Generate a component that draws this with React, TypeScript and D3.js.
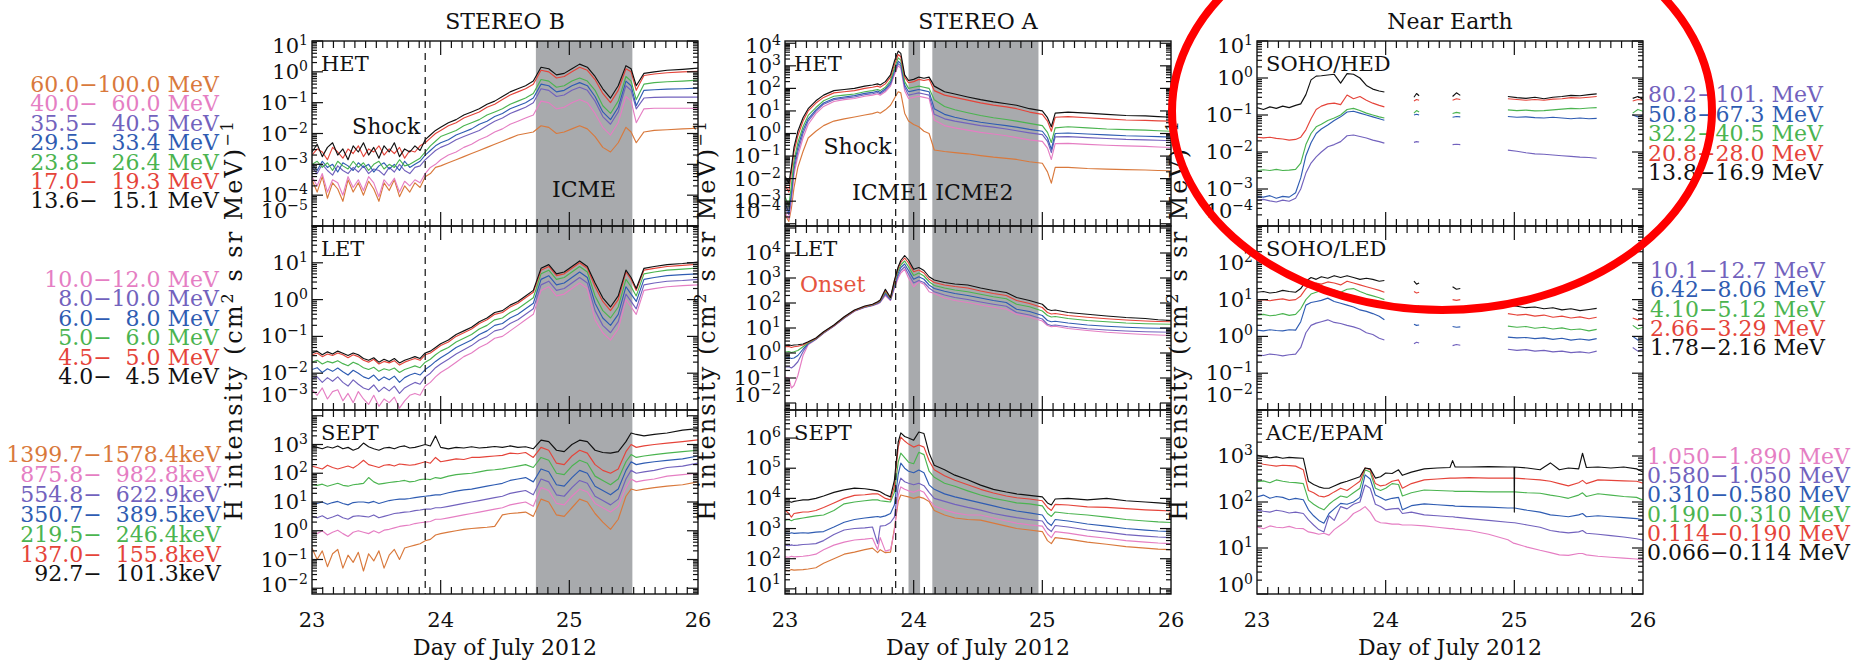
import React from "react";
import * as d3 from "d3";

const FONT = "'DejaVu Serif', 'Liberation Serif', serif";

const C = {
  orange: "#d9793c",
  pink: "#e57ec3",
  purple: "#7262bd",
  blue: "#2f5cb2",
  green: "#4bb450",
  red: "#e5443a",
  black: "#111111",
};

// ---------- sample times (day of July 2012) ----------
const stbTime = [
  23.0, 23.04, 23.08, 23.12, 23.16, 23.2, 23.24, 23.28, 23.32, 23.36,
  23.4, 23.44, 23.48, 23.52, 23.56, 23.6, 23.64, 23.68, 23.72, 23.76,
  23.8, 23.84, 23.88, 23.92, 23.96, 24.0, 24.06, 24.12, 24.18, 24.24,
  24.3, 24.36, 24.42, 24.48, 24.54, 24.6, 24.66, 24.72, 24.78, 24.84,
  24.9, 24.96, 25.02, 25.08, 25.14, 25.2, 25.26, 25.32, 25.38, 25.44,
  25.48, 25.52, 25.58, 25.66, 25.76, 25.88, 26.0,
];
const staTime = [
  23.0, 23.03, 23.05, 23.07, 23.1, 23.14, 23.18, 23.24, 23.3, 23.38,
  23.46, 23.54, 23.62, 23.68, 23.72, 23.74, 23.78, 23.82, 23.85, 23.88,
  23.9, 23.93, 23.96, 24.0, 24.04, 24.08, 24.12, 24.16, 24.24, 24.32,
  24.42, 24.52, 24.62, 24.72, 24.8, 24.9, 25.0, 25.04, 25.07, 25.1,
  25.2, 25.35, 25.5, 25.65, 25.8, 25.9, 26.0,
];
const sohoTime = [
  23.0, 23.05, 23.1, 23.15, 23.2, 23.25, 23.3, 23.34, 23.38, 23.42,
  23.46, 23.5, 23.55, 23.6, 23.65, 23.7, 23.75, 23.8, 23.85, 23.9,
  23.95, 23.99, 24.1, 24.22, 24.24, 24.26, 24.4, 24.52, 24.55, 24.58,
  24.8, 24.95, 25.02, 25.09, 25.16, 25.23, 25.3, 25.37, 25.44, 25.51,
  25.58, 25.64, 25.8, 25.92, 25.96, 26.0,
];
const epamTime = [
  23.0, 23.05, 23.1, 23.15, 23.2, 23.25, 23.3, 23.36, 23.4, 23.44,
  23.48, 23.52, 23.56, 23.6, 23.65, 23.7, 23.75, 23.8, 23.84, 23.88,
  23.92, 23.96, 24.0, 24.05, 24.1, 24.13, 24.2, 24.3, 24.4, 24.5,
  24.52, 24.54, 24.65, 24.8, 24.95, 24.998, 25.0, 25.002, 25.1, 25.2,
  25.28, 25.35, 25.42, 25.5, 25.53, 25.56, 25.65, 25.75, 25.85, 25.95,
  26.0,
];

// ---------- event markers ----------
const stbShock = 23.88;
const staShock = 23.86;
const stbIcme = [[24.74, 25.49]];
const staIcme = [[23.96, 24.05], [24.145, 24.97]];

// ---------- STEREO B HET, log10 intensity ----------
const stbHetOrange = [-3.5,-3.9,-3.4,-4.1,-3.6,-3.8,-4.2,-3.5,-3.9,-3.6,-4.0,-3.55,-3.8,-4.2,-3.6,-3.85,-3.5,-4.05,-3.7,-3.9,-3.6,-3.75,-3.4,-3.3,-3.1,-3.05,-2.95,-2.85,-2.75,-2.65,-2.55,-2.45,-2.35,-2.25,-2.15,-2.05,-2.0,-1.95,-1.75,-1.8,-2.0,-1.95,-1.85,-1.75,-1.85,-2.1,-2.45,-2.6,-2.3,-1.8,-1.95,-2.3,-1.95,-1.9,-1.88,-1.85,-1.83];
const stbHetPink = [-3.4,-3.7,-3.3,-3.9,-3.5,-3.6,-4.0,-3.4,-3.75,-3.5,-3.85,-3.4,-3.6,-4.05,-3.5,-3.7,-3.45,-3.9,-3.55,-3.7,-3.5,-3.6,-3.3,-3.1,-3.0,-2.85,-2.7,-2.6,-2.45,-2.35,-2.2,-2.1,-1.95,-1.85,-1.7,-1.6,-1.5,-1.4,-0.95,-1.0,-1.2,-1.15,-1.0,-0.9,-1.0,-1.35,-1.8,-2.05,-1.65,-0.8,-0.95,-1.65,-1.2,-1.18,-1.18,-1.18,-1.18];
const stbHetPurple = [-3.1,-3.3,-3.0,-3.2,-3.35,-3.05,-3.2,-3.3,-3.1,-3.25,-3.05,-3.3,-3.15,-3.2,-3.35,-3.1,-3.25,-3.0,-3.2,-3.3,-3.1,-3.05,-2.85,-2.7,-2.55,-2.45,-2.35,-2.2,-2.1,-2.0,-1.9,-1.75,-1.6,-1.5,-1.35,-1.25,-1.15,-1.0,-0.55,-0.6,-0.8,-0.75,-0.6,-0.5,-0.6,-0.95,-1.45,-1.7,-1.3,-0.45,-0.6,-1.2,-0.85,-0.83,-0.82,-0.82,-0.82];
const stbHetBlue = [-3.0,-3.2,-2.9,-3.1,-3.0,-3.25,-2.95,-3.05,-3.2,-2.95,-3.1,-3.0,-3.25,-3.05,-2.95,-3.15,-3.0,-3.2,-2.9,-3.1,-3.0,-2.9,-2.7,-2.55,-2.4,-2.3,-2.2,-2.05,-1.95,-1.85,-1.7,-1.6,-1.45,-1.35,-1.2,-1.1,-1.0,-0.85,-0.4,-0.45,-0.65,-0.6,-0.45,-0.35,-0.45,-0.8,-1.3,-1.55,-1.15,-0.3,-0.45,-1.1,-0.6,-0.58,-0.56,-0.55,-0.53];
const stbHetGreen = [-3.0,-2.9,-3.1,-2.95,-3.2,-2.9,-3.05,-3.15,-2.9,-3.1,-2.95,-3.2,-3.0,-2.9,-3.15,-3.0,-3.1,-2.85,-3.05,-3.0,-2.9,-2.8,-2.6,-2.4,-2.25,-2.1,-2.0,-1.9,-1.75,-1.65,-1.55,-1.4,-1.3,-1.2,-1.05,-0.95,-0.85,-0.7,-0.25,-0.3,-0.5,-0.45,-0.3,-0.2,-0.3,-0.6,-1.1,-1.35,-0.95,-0.15,-0.3,-0.9,-0.4,-0.35,-0.32,-0.3,-0.27];
const stbHetRed = [-2.7,-2.5,-2.6,-2.85,-2.45,-2.6,-2.8,-2.5,-2.65,-2.4,-2.75,-2.5,-2.6,-2.4,-2.7,-2.5,-2.65,-2.45,-2.8,-2.55,-2.6,-2.4,-2.3,-2.15,-2.0,-1.9,-1.75,-1.65,-1.5,-1.4,-1.3,-1.15,-1.05,-0.9,-0.75,-0.65,-0.55,-0.4,0.05,0.0,-0.2,-0.15,0.0,0.15,0.05,-0.25,-0.7,-1.0,-0.6,0.1,0.0,-0.6,-0.12,-0.07,-0.03,0.0,0.02];
const stbHetBlack = [-2.6,-2.35,-2.75,-2.45,-2.3,-2.7,-2.5,-2.85,-2.4,-2.6,-2.3,-2.7,-2.45,-2.8,-2.4,-2.6,-2.3,-2.75,-2.5,-2.6,-2.4,-2.55,-2.2,-2.05,-1.9,-1.8,-1.65,-1.55,-1.4,-1.3,-1.2,-1.05,-0.95,-0.8,-0.65,-0.55,-0.45,-0.3,0.15,0.1,-0.1,-0.05,0.1,0.25,0.15,-0.15,-0.55,-0.85,-0.45,0.2,0.1,-0.45,-0.05,0.0,0.05,0.08,0.12];

// ---------- STEREO B LET ----------
const stbLetPink = [-2.45,-2.6,-2.4,-2.7,-2.5,-2.45,-2.75,-2.55,-2.8,-2.5,-2.7,-2.85,-2.6,-2.9,-2.7,-2.8,-2.65,-2.95,-2.75,-2.6,-2.55,-2.6,-2.35,-2.25,-2.1,-1.98,-1.85,-1.7,-1.55,-1.45,-1.3,-1.2,-1.05,-1.0,-0.85,-0.7,-0.55,-0.4,0.25,0.35,0.1,0.15,0.3,0.45,0.3,-0.55,-0.9,-1.1,-0.8,0.0,-0.2,-0.4,0.25,0.3,0.35,0.38,0.4];
const stbLetPurple = [-2.15,-2.1,-2.25,-2.12,-2.22,-2.1,-2.25,-2.35,-2.18,-2.3,-2.4,-2.45,-2.32,-2.5,-2.38,-2.48,-2.35,-2.55,-2.4,-2.32,-2.25,-2.3,-2.1,-2.0,-1.85,-1.75,-1.62,-1.48,-1.36,-1.25,-1.1,-1.0,-0.85,-0.8,-0.65,-0.55,-0.4,-0.25,0.4,0.5,0.25,0.3,0.45,0.6,0.45,-0.3,-0.7,-0.9,-0.6,0.15,-0.05,-0.25,0.4,0.45,0.5,0.52,0.55];
const stbLetBlue = [-1.9,-1.85,-1.98,-1.88,-1.95,-1.86,-1.96,-2.05,-1.92,-2.0,-2.1,-2.15,-2.05,-2.2,-2.1,-2.18,-2.08,-2.25,-2.12,-2.05,-2.0,-2.05,-1.9,-1.8,-1.68,-1.58,-1.45,-1.3,-1.2,-1.1,-0.95,-0.85,-0.7,-0.65,-0.5,-0.4,-0.25,-0.1,0.55,0.65,0.4,0.45,0.6,0.75,0.6,-0.1,-0.5,-0.7,-0.4,0.35,0.15,-0.05,0.55,0.6,0.65,0.68,0.7];
const stbLetGreen = [-1.7,-1.65,-1.75,-1.68,-1.72,-1.66,-1.74,-1.8,-1.7,-1.76,-1.85,-1.9,-1.84,-1.95,-1.88,-1.92,-1.86,-1.98,-1.9,-1.85,-1.8,-1.85,-1.7,-1.62,-1.5,-1.4,-1.3,-1.15,-1.05,-0.95,-0.8,-0.7,-0.55,-0.5,-0.35,-0.25,-0.1,0.05,0.7,0.8,0.55,0.6,0.75,0.9,0.75,0.1,-0.3,-0.5,-0.2,0.55,0.35,0.1,0.7,0.75,0.8,0.83,0.86];
const stbLetRed = [-1.5,-1.45,-1.55,-1.48,-1.52,-1.45,-1.5,-1.58,-1.5,-1.55,-1.65,-1.7,-1.62,-1.75,-1.68,-1.72,-1.66,-1.78,-1.7,-1.65,-1.6,-1.65,-1.5,-1.45,-1.35,-1.25,-1.15,-1.0,-0.9,-0.8,-0.65,-0.55,-0.4,-0.35,-0.2,-0.1,0.05,0.2,0.8,0.9,0.65,0.7,0.85,1.0,0.85,0.35,-0.05,-0.3,0.0,0.75,0.55,0.25,0.8,0.85,0.9,0.93,0.96];
const stbLetBlack = [-1.45,-1.4,-1.5,-1.42,-1.48,-1.4,-1.46,-1.52,-1.45,-1.5,-1.6,-1.65,-1.58,-1.7,-1.62,-1.68,-1.6,-1.72,-1.65,-1.6,-1.55,-1.6,-1.45,-1.4,-1.3,-1.2,-1.1,-0.95,-0.85,-0.75,-0.6,-0.5,-0.35,-0.3,-0.15,-0.05,0.1,0.25,0.85,0.95,0.7,0.75,0.9,1.05,0.9,0.45,0.05,-0.2,0.1,0.8,0.6,0.3,0.85,0.9,0.95,0.98,1.02];

// ---------- STEREO B SEPT ----------
const stbSeptOrange = [-0.6,-1.0,-0.7,-1.25,-0.8,-0.65,-1.3,-0.85,-1.1,-0.75,-1.4,-0.8,-1.05,-0.7,-1.3,-0.85,-0.65,-1.0,-0.6,-0.55,-0.5,-0.45,-0.35,-0.3,-0.15,-0.1,-0.05,0.0,0.05,0.08,0.1,0.12,0.15,0.55,0.6,0.62,0.65,0.5,1.1,1.0,0.55,0.5,0.8,1.1,1.0,0.6,0.3,0.05,0.4,1.2,1.45,1.4,1.45,1.5,1.55,1.6,1.7];
const stbSeptPink = [-0.05,-0.1,0.0,-0.15,-0.05,0.02,-0.1,-0.2,-0.05,0.0,-0.05,-0.1,0.0,-0.08,0.02,0.05,0.1,0.15,0.18,0.2,0.25,0.28,0.3,0.32,0.4,0.4,0.45,0.5,0.55,0.6,0.65,0.7,0.75,0.8,0.9,0.95,1.0,0.85,1.5,1.4,0.95,0.9,1.2,1.45,1.35,0.95,0.8,0.65,0.85,1.5,1.8,1.7,1.75,1.8,1.9,1.95,2.0];
const stbSeptPurple = [0.5,0.45,0.52,0.42,0.48,0.55,0.45,0.4,0.5,0.52,0.5,0.48,0.55,0.45,0.5,0.55,0.6,0.62,0.65,0.66,0.7,0.72,0.75,0.75,0.8,0.8,0.85,0.9,0.95,1.0,1.05,1.1,1.15,1.2,1.3,1.35,1.4,1.25,1.8,1.7,1.25,1.2,1.5,1.75,1.65,1.2,1.05,0.9,1.1,1.8,2.1,2.0,2.05,2.1,2.2,2.25,2.35];
const stbSeptBlue = [0.97,0.95,1.0,0.92,0.98,1.02,0.95,0.9,0.98,1.0,1.0,0.97,1.02,0.95,1.0,1.05,1.08,1.1,1.1,1.12,1.15,1.18,1.2,1.22,1.25,1.25,1.32,1.38,1.42,1.45,1.5,1.55,1.6,1.65,1.75,1.8,1.85,1.7,2.15,2.05,1.6,1.55,1.85,2.1,2.0,1.55,1.4,1.25,1.45,2.1,2.4,2.3,2.35,2.4,2.45,2.5,2.6];
const stbSeptGreen = [1.6,1.58,1.62,1.55,1.6,1.65,1.58,1.55,1.6,1.62,1.65,1.85,1.7,1.62,1.65,1.68,1.7,1.72,1.75,1.7,1.72,1.78,1.8,1.78,1.85,1.82,1.9,1.95,1.98,2.0,2.05,2.1,2.12,2.15,2.2,2.25,2.3,2.2,2.55,2.45,2.0,1.95,2.25,2.45,2.35,1.9,1.75,1.6,1.8,2.4,2.65,2.55,2.6,2.65,2.7,2.75,2.8];
const stbSeptRed = [2.25,2.2,2.15,2.28,2.2,2.15,2.2,2.25,2.18,2.3,2.45,2.3,2.25,2.2,2.28,2.3,2.25,2.32,2.3,2.28,2.3,2.35,2.4,2.35,2.55,2.4,2.45,2.5,2.48,2.55,2.55,2.58,2.6,2.62,2.7,2.68,2.72,2.55,2.9,2.8,2.35,2.3,2.6,2.8,2.7,2.3,2.1,2.0,2.15,2.75,3.0,2.9,2.95,3.0,3.05,3.1,3.16];
const stbSeptBlack = [2.95,2.9,2.85,2.92,2.88,2.95,2.85,2.9,2.8,2.87,3.05,2.92,2.85,2.8,2.88,2.9,2.85,2.92,2.95,2.88,2.9,2.95,3.0,2.95,3.3,2.9,2.85,2.9,2.88,2.92,2.88,2.9,2.93,2.9,2.95,2.9,2.92,2.85,3.15,3.1,2.8,2.75,3.0,3.15,3.1,2.8,2.72,2.7,2.75,3.1,3.4,3.35,3.3,3.35,3.4,3.5,3.55];

// ---------- STEREO A HET ----------
const staHetOrange = [-3.6,-3.9,-3.3,-2.4,-1.5,-0.8,-0.2,0.1,0.35,0.55,0.65,0.73,0.82,0.88,0.95,0.9,1.05,1.25,1.55,1.85,1.8,0.9,0.55,0.4,0.3,0.1,0.0,-0.73,-0.8,-0.85,-0.9,-0.98,-1.05,-1.1,-1.15,-1.25,-1.32,-1.7,-2.2,-1.5,-1.5,-1.55,-1.58,-1.6,-1.62,-1.64,-1.65];
const staHetPink = [-3.5,-3.8,-3.0,-1.8,-1.0,-0.2,0.4,0.88,1.2,1.42,1.5,1.55,1.65,1.7,1.75,1.7,1.85,2.1,2.6,3.0,2.9,1.9,1.55,1.6,1.65,1.6,1.55,0.6,0.35,0.25,0.15,0.05,-0.02,-0.1,-0.18,-0.28,-0.35,-0.65,-1.15,-0.45,-0.44,-0.48,-0.52,-0.55,-0.57,-0.6,-0.62];
const staHetPurple = [-3.3,-3.6,-2.8,-1.6,-0.8,0.0,0.55,0.98,1.3,1.5,1.57,1.62,1.72,1.76,1.82,1.76,1.92,2.18,2.7,3.1,3.0,2.05,1.7,1.75,1.8,1.75,1.7,0.85,0.65,0.55,0.45,0.35,0.28,0.2,0.12,0.03,-0.05,-0.35,-0.85,-0.15,-0.14,-0.18,-0.22,-0.26,-0.28,-0.3,-0.32];
const staHetBlue = [-3.1,-3.5,-2.6,-1.4,-0.6,0.15,0.65,1.05,1.35,1.55,1.62,1.68,1.78,1.82,1.88,1.82,1.98,2.25,2.8,3.2,3.1,2.15,1.85,1.9,1.95,1.9,1.85,1.1,0.85,0.72,0.6,0.5,0.42,0.35,0.28,0.18,0.1,-0.2,-0.7,0.0,0.02,-0.02,-0.06,-0.1,-0.12,-0.14,-0.16];
const staHetGreen = [-2.8,-3.2,-2.3,-1.2,-0.4,0.3,0.8,1.15,1.45,1.65,1.7,1.75,1.85,1.9,1.95,1.9,2.05,2.35,2.9,3.35,3.25,2.3,2.0,2.05,2.1,2.05,2.0,1.5,1.2,1.05,0.92,0.8,0.7,0.62,0.55,0.45,0.35,0.05,-0.4,0.25,0.3,0.25,0.2,0.17,0.15,0.12,0.1];
const staHetRed = [-2.3,-2.6,-1.7,-0.8,-0.1,0.55,1.0,1.35,1.6,1.8,1.85,1.9,2.0,2.05,2.1,2.05,2.2,2.5,3.05,3.5,3.4,2.5,2.25,2.3,2.4,2.35,2.4,1.9,1.7,1.6,1.48,1.36,1.26,1.18,1.1,0.95,0.85,0.55,0.1,0.72,0.75,0.7,0.65,0.6,0.58,0.56,0.55];
const staHetBlack = [-1.9,-2.2,-1.5,-0.6,0.1,0.7,1.1,1.45,1.7,1.9,1.95,2.0,2.1,2.15,2.2,2.15,2.3,2.6,3.2,3.65,3.55,2.6,2.35,2.4,2.5,2.45,2.5,2.1,1.85,1.75,1.62,1.5,1.4,1.32,1.25,1.1,1.0,0.7,0.3,0.9,0.95,0.9,0.85,0.8,0.78,0.75,0.72];

// ---------- STEREO A LET ----------
const staLetPink = [-0.96,-1.0,-1.4,-1.3,-0.9,-0.1,0.33,0.54,0.79,1.07,1.39,1.67,1.82,1.89,1.96,2.02,2.3,2.1,2.58,3.0,3.2,3.35,3.0,2.65,2.85,2.75,2.45,2.38,2.2,2.1,2.02,1.92,1.83,1.75,1.55,1.44,1.28,1.1,1.05,1.07,0.98,0.9,0.83,0.78,0.74,0.72,0.7];
const staLetPurple = [-0.56,-0.55,-0.6,-0.52,-0.35,0.05,0.36,0.55,0.8,1.08,1.4,1.68,1.83,1.9,1.98,2.04,2.35,2.12,2.65,3.1,3.3,3.45,3.15,2.8,2.9,2.82,2.6,2.45,2.32,2.22,2.14,2.04,1.95,1.87,1.62,1.52,1.36,1.15,1.1,1.12,1.05,0.97,0.92,0.88,0.85,0.84,0.83];
const staLetBlue = [-0.2,-0.18,-0.22,-0.2,-0.1,0.15,0.38,0.56,0.81,1.09,1.41,1.69,1.84,1.91,2.0,2.06,2.4,2.15,2.72,3.2,3.42,3.56,3.3,2.95,3.05,2.95,2.72,2.58,2.47,2.38,2.3,2.2,2.1,2.02,1.75,1.66,1.5,1.3,1.25,1.27,1.2,1.12,1.07,1.03,1.0,0.99,0.98];
const staLetGreen = [0.04,0.06,0.02,0.05,0.1,0.25,0.4,0.57,0.82,1.1,1.42,1.7,1.85,1.92,2.02,2.08,2.45,2.18,2.8,3.3,3.52,3.68,3.45,3.1,3.2,3.08,2.85,2.7,2.6,2.52,2.45,2.35,2.25,2.17,1.95,1.85,1.68,1.5,1.44,1.46,1.38,1.3,1.25,1.2,1.17,1.16,1.15];
const staLetRed = [0.25,0.26,0.22,0.25,0.27,0.32,0.43,0.58,0.83,1.1,1.43,1.7,1.86,1.93,2.03,2.1,2.5,2.2,2.85,3.4,3.62,3.8,3.6,3.25,3.32,3.2,2.95,2.82,2.72,2.66,2.6,2.48,2.38,2.3,2.1,1.98,1.82,1.62,1.56,1.58,1.5,1.43,1.37,1.32,1.28,1.26,1.25];
const staLetBlack = [0.32,0.33,0.3,0.32,0.33,0.36,0.45,0.6,0.85,1.12,1.45,1.72,1.88,1.95,2.05,2.12,2.55,2.22,2.9,3.45,3.7,3.9,3.72,3.35,3.42,3.3,3.05,2.92,2.82,2.76,2.72,2.6,2.5,2.42,2.22,2.1,1.95,1.75,1.7,1.72,1.62,1.55,1.48,1.42,1.38,1.33,1.3];

// ---------- STEREO A SEPT ----------
const staSeptOrange = [1.62,1.6,1.64,1.62,1.63,1.64,1.66,1.7,1.85,2.0,2.15,2.22,2.3,2.35,2.2,2.3,2.2,2.22,3.0,3.9,4.11,4.08,4.05,4.0,4.05,4.0,3.9,3.6,3.45,3.35,3.3,3.28,3.18,3.08,3.0,2.95,2.9,2.6,2.5,2.7,2.65,2.55,2.48,2.4,2.35,2.32,2.3];
const staSeptPink = [2.06,2.05,2.08,2.06,2.07,2.08,2.1,2.15,2.3,2.45,2.55,2.62,2.65,2.68,2.3,2.7,2.25,2.3,2.9,4.1,4.38,4.3,4.25,4.2,4.28,4.2,3.95,3.75,3.62,3.52,3.45,3.45,3.35,3.25,3.18,3.12,3.08,2.82,2.7,2.9,2.85,2.75,2.68,2.6,2.55,2.52,2.5];
const staSeptPurple = [2.45,2.43,2.46,2.44,2.45,2.47,2.48,2.5,2.6,2.8,2.95,3.0,3.02,3.05,2.5,3.08,3.1,3.2,3.38,4.4,4.67,4.55,4.5,4.45,4.5,4.42,4.2,4.0,3.9,3.8,3.7,3.61,3.5,3.42,3.36,3.3,3.25,3.0,2.9,3.1,3.05,2.95,2.88,2.8,2.75,2.72,2.7];
const staSeptBlue = [2.85,2.83,2.86,2.84,2.85,2.86,2.85,2.88,2.9,3.05,3.21,3.3,3.35,3.38,3.4,3.38,3.42,3.5,3.78,4.8,5.17,5.0,4.9,4.85,4.94,4.85,4.45,4.3,4.15,4.05,3.95,3.85,3.75,3.65,3.58,3.52,3.45,3.2,3.1,3.3,3.25,3.15,3.08,3.0,2.95,2.92,2.9];
const staSeptGreen = [3.28,3.3,3.26,3.3,3.32,3.35,3.38,3.42,3.45,3.6,3.82,3.88,3.92,3.95,3.95,3.92,3.9,3.88,4.2,5.2,5.5,5.35,5.2,5.15,5.53,5.45,4.9,4.7,4.5,4.4,4.25,4.11,4.0,3.92,3.85,3.82,3.75,3.5,3.4,3.55,3.5,3.45,3.38,3.3,3.25,3.22,3.2];
const staSeptRed = [3.61,3.5,3.38,3.5,3.52,3.55,3.55,3.6,3.7,3.85,4.0,4.1,4.12,4.15,4.15,4.1,4.0,3.95,4.4,5.7,6.03,5.9,5.8,5.7,5.77,5.7,5.25,4.95,4.75,4.6,4.45,4.3,4.18,4.08,4.02,3.98,3.92,3.7,3.6,3.8,3.78,3.72,3.7,3.66,3.62,3.6,3.58];
const staSeptBlack = [3.88,3.9,3.87,3.9,3.92,3.95,3.95,4.0,4.08,4.2,4.28,4.34,4.32,4.28,4.25,4.22,4.12,4.05,4.6,5.87,6.17,6.05,6.0,5.93,6.2,6.15,5.5,5.1,4.95,4.77,4.62,4.44,4.3,4.21,4.15,4.1,4.05,3.85,3.78,3.98,4.0,3.95,4.0,3.92,3.88,3.85,3.82];

// ---------- SOHO/HED (null = data gap) ----------
const hedPurple = [-3.3,-3.28,-3.32,-3.35,-3.3,-3.33,-3.25,-3.0,-2.57,-2.3,-2.13,-2.0,-1.86,-1.8,-1.72,-1.56,-1.54,-1.58,-1.62,-1.68,-1.72,-1.76,null,-1.74,-1.72,-1.73,null,-1.8,-1.79,-1.8,null,-1.95,-1.98,-2.02,-2.05,-2.06,-2.08,-2.1,-2.12,-2.14,-2.15,-2.17,null,null,null,null];
const hedBlue = [-3.2,-3.22,-3.18,-3.25,-3.2,-3.22,-3.1,-2.7,-2.1,-1.75,-1.5,-1.38,-1.27,-1.15,-1.05,-0.92,-0.9,-0.95,-1.0,-1.05,-1.1,-1.14,null,-1.0,-0.98,-1.0,null,-1.06,-1.04,-1.05,null,-1.04,-1.06,-1.05,-1.07,-1.08,-1.06,-1.08,-1.1,-1.08,-1.1,-1.09,null,-1.0,-1.05,-1.0];
const hedGreen = [-2.5,-2.48,-2.5,-2.47,-2.5,-2.49,-2.47,-2.3,-1.8,-1.5,-1.32,-1.25,-1.15,-1.08,-1.0,-0.85,-0.82,-0.88,-0.95,-1.0,-1.05,-1.08,null,-0.95,-0.88,-0.92,null,-0.96,-0.93,-0.95,null,-0.86,-0.88,-0.87,-0.89,-0.88,-0.86,-0.84,-0.82,-0.83,-0.81,-0.8,null,-0.95,-0.85,-0.9];
const hedRed = [-1.6,-1.62,-1.6,-1.63,-1.65,-1.68,-1.66,-1.6,-1.4,-1.1,-0.85,-0.76,-0.7,-0.68,-0.72,-0.46,-0.56,-0.5,-0.6,-0.68,-0.74,-0.78,null,-0.62,-0.58,-0.6,null,-0.6,-0.56,-0.58,null,-0.56,-0.58,-0.6,-0.58,-0.6,-0.57,-0.56,-0.53,-0.54,-0.52,-0.5,null,-0.62,-0.58,-0.6];
const hedBlack = [-0.8,-0.85,-0.78,-0.82,-0.76,-0.8,-0.74,-0.7,-0.45,-0.05,0.05,0.06,0.08,0.1,-0.14,0.12,0.1,0.0,-0.2,-0.3,-0.35,-0.38,null,-0.52,-0.42,-0.48,null,-0.5,-0.4,-0.47,null,-0.5,-0.53,-0.55,-0.52,-0.56,-0.52,-0.5,-0.47,-0.48,-0.45,-0.43,null,-0.55,-0.5,-0.58];

// ---------- SOHO/LED ----------
const ledPurple = [-0.5,-0.52,-0.48,-0.5,-0.53,-0.5,-0.48,-0.3,0.1,0.3,0.36,0.4,0.45,0.38,0.35,0.3,0.26,0.2,0.1,0.05,-0.05,-0.1,null,-0.2,-0.16,-0.18,null,-0.25,-0.22,-0.24,null,-0.35,-0.38,-0.36,-0.4,-0.38,-0.42,-0.4,-0.44,-0.42,-0.45,-0.4,null,-0.3,-0.4,-0.35];
const ledBlue = [0.17,0.15,0.18,0.16,0.15,0.18,0.17,0.4,0.85,0.92,0.95,0.98,1.04,0.95,0.9,0.85,0.8,0.72,0.68,0.62,0.55,0.45,null,0.33,0.3,0.31,null,0.27,0.25,0.26,null,-0.02,-0.04,-0.03,-0.06,-0.04,-0.08,-0.05,-0.1,-0.07,-0.1,-0.06,null,0.0,-0.1,-0.05];
const ledGreen = [0.58,0.6,0.56,0.58,0.62,0.57,0.6,0.75,1.0,1.15,1.2,1.25,1.3,1.26,1.2,1.28,1.3,1.22,1.15,1.1,1.05,1.0,null,0.85,0.8,0.83,null,0.75,0.72,0.74,null,0.28,0.25,0.27,0.22,0.25,0.2,0.23,0.18,0.2,0.15,0.19,null,0.3,0.2,0.25];
const ledRed = [0.99,1.0,0.97,1.0,1.02,0.98,1.0,1.1,1.3,1.4,1.45,1.42,1.48,1.45,1.4,1.5,1.45,1.4,1.35,1.3,1.25,1.2,null,1.22,1.18,1.2,null,1.0,0.98,1.0,null,0.62,0.58,0.6,0.55,0.58,0.52,0.55,0.5,0.53,0.48,0.52,null,0.5,0.45,0.48];
const ledBlack = [1.2,1.22,1.18,1.2,1.25,1.22,1.2,1.3,1.5,1.6,1.55,1.62,1.58,1.65,1.6,1.65,1.6,1.55,1.58,1.55,1.5,1.52,null,1.5,1.42,1.45,null,1.35,1.28,1.3,null,0.85,0.82,0.78,0.8,0.75,0.78,0.72,0.75,0.7,0.73,0.76,null,0.75,0.7,0.72];

// ---------- ACE/EPAM ----------
const epamPink = [1.46,1.42,1.48,1.45,1.44,1.47,1.43,1.42,1.35,1.33,1.3,1.32,1.28,1.4,1.5,1.6,1.75,1.82,1.9,1.78,1.6,1.55,1.54,1.52,1.52,1.5,1.5,1.48,1.45,1.42,1.42,1.41,1.38,1.3,1.18,1.1,1.1,1.1,1.02,0.95,0.9,0.85,0.84,0.88,0.88,0.85,0.82,0.8,0.78,0.76,0.74];
const epamPurple = [1.83,1.8,1.78,1.82,1.8,1.76,1.78,1.75,1.61,1.5,1.4,1.35,1.7,1.6,1.9,1.85,1.95,2.0,2.37,2.3,1.95,1.9,1.83,1.85,1.86,1.75,1.78,1.72,1.7,1.68,1.68,1.67,1.64,1.6,1.56,1.55,1.55,1.55,1.5,1.45,1.38,1.35,1.33,1.35,1.38,1.32,1.3,1.27,1.24,1.2,1.17];
const epamBlue = [2.11,2.15,2.08,2.12,2.1,2.05,2.08,2.05,1.83,1.7,1.6,1.54,1.75,1.85,1.97,1.95,2.0,2.1,2.59,2.5,2.15,2.1,2.04,2.08,2.1,1.83,1.92,1.96,1.94,1.92,1.92,1.91,1.9,1.89,1.87,1.87,1.87,1.87,1.82,1.78,1.72,1.7,1.68,1.72,1.75,1.68,1.7,1.68,1.66,1.64,1.61];
const epamGreen = [2.44,2.46,2.42,2.48,2.45,2.43,2.42,2.4,2.04,1.95,1.88,1.83,1.95,2.04,2.13,2.1,2.2,2.3,2.7,2.65,2.3,2.25,2.3,2.4,2.38,2.13,2.2,2.26,2.25,2.24,2.24,2.23,2.23,2.22,2.22,2.22,2.22,2.22,2.2,2.19,2.15,2.12,2.08,2.15,2.2,2.12,2.18,2.15,2.12,2.1,2.04];
const epamRed = [2.86,2.82,2.8,2.78,2.8,2.79,2.78,2.7,2.25,2.2,2.13,2.11,2.15,2.22,2.3,2.25,2.35,2.45,2.74,2.7,2.4,2.35,2.37,2.45,2.48,2.3,2.4,2.48,2.5,2.52,2.52,2.52,2.53,2.52,2.52,2.52,2.52,2.52,2.5,2.48,2.45,2.4,2.35,2.42,2.47,2.4,2.48,2.47,2.46,2.45,2.41];
const epamBlack = [3.02,2.98,2.96,2.98,2.95,2.97,2.96,2.95,2.45,2.38,2.33,2.3,2.3,2.35,2.41,2.45,2.5,2.55,2.74,2.72,2.52,2.55,2.63,2.62,2.7,2.58,2.65,2.72,2.74,2.75,2.9,2.76,2.76,2.77,2.76,2.76,1.78,2.76,2.74,2.7,2.85,2.7,2.74,2.72,3.06,2.75,2.76,2.74,2.76,2.72,2.65];

// ---------- legend labels (top to bottom) ----------
const FS = "\u2007";
const hetLabels = ["60.0\u2212100.0 MeV", `40.0\u2212${FS}60.0 MeV`, `35.5\u2212${FS}40.5 MeV`, `29.5\u2212${FS}33.4 MeV`, `23.8\u2212${FS}26.4 MeV`, `17.0\u2212${FS}19.3 MeV`, `13.6\u2212${FS}15.1 MeV`];
const letLabels = ["10.0\u221212.0 MeV", `${FS}8.0\u221210.0 MeV`, `${FS}6.0\u2212${FS}8.0 MeV`, `${FS}5.0\u2212${FS}6.0 MeV`, `${FS}4.5\u2212${FS}5.0 MeV`, `${FS}4.0\u2212${FS}4.5 MeV`];
const septLabels = ["1399.7\u22121578.4keV", `${FS}875.8\u2212${FS}982.8keV`, `${FS}554.8\u2212${FS}622.9keV`, `${FS}350.7\u2212${FS}389.5keV`, `${FS}219.5\u2212${FS}246.4keV`, `${FS}137.0\u2212${FS}155.8keV`, `${FS}${FS}92.7\u2212${FS}101.3keV`];
const hedLabels = ["80.2\u2212101. MeV", "50.8\u221267.3 MeV", "32.2\u221240.5 MeV", "20.8\u221228.0 MeV", "13.8\u221216.9 MeV"];
const ledLabels = ["10.1\u221212.7 MeV", "6.42\u22128.06 MeV", "4.10\u22125.12 MeV", "2.66\u22123.29 MeV", "1.78\u22122.16 MeV"];
const epamLabels = ["1.050\u22121.890 MeV", "0.580\u22121.050 MeV", "0.310\u22120.580 MeV", "0.190\u22120.310 MeV", "0.114\u22120.190 MeV", "0.066\u22120.114 MeV"];

const stereo7 = [C.orange, C.pink, C.purple, C.blue, C.green, C.red, C.black];
const let6 = [C.pink, C.purple, C.blue, C.green, C.red, C.black];
const soho5 = [C.purple, C.blue, C.green, C.red, C.black];
const epam6 = [C.pink, C.purple, C.blue, C.green, C.red, C.black];

const columnTitles = ["STEREO B", "STEREO A", "Near Earth"];
const dayTicks = [23, 24, 25, 26];

type PanelDef = {
  col: number;
  row: number;
  tag: string;
  time: number[];
  range: [number, number]; // log10 limits of the intensity axis
  series: (number | null)[][];
  colors: string[];
};

const panels: PanelDef[] = [
  { col: 0, row: 0, tag: "HET", time: stbTime, range: [-5, 1], series: [stbHetOrange, stbHetPink, stbHetPurple, stbHetBlue, stbHetGreen, stbHetRed, stbHetBlack], colors: stereo7 },
  { col: 0, row: 1, tag: "LET", time: stbTime, range: [-3, 2], series: [stbLetPink, stbLetPurple, stbLetBlue, stbLetGreen, stbLetRed, stbLetBlack], colors: let6 },
  { col: 0, row: 2, tag: "SEPT", time: stbTime, range: [-2.2, 4.2], series: [stbSeptOrange, stbSeptPink, stbSeptPurple, stbSeptBlue, stbSeptGreen, stbSeptRed, stbSeptBlack], colors: stereo7 },
  { col: 1, row: 0, tag: "HET", time: staTime, range: [-4.1, 4.1], series: [staHetOrange, staHetPink, staHetPurple, staHetBlue, staHetGreen, staHetRed, staHetBlack], colors: stereo7 },
  { col: 1, row: 1, tag: "LET", time: staTime, range: [-2.28, 5.08], series: [staLetPink, staLetPurple, staLetBlue, staLetGreen, staLetRed, staLetBlack], colors: let6 },
  { col: 1, row: 2, tag: "SEPT", time: staTime, range: [0.83, 6.93], series: [staSeptOrange, staSeptPink, staSeptPurple, staSeptBlue, staSeptGreen, staSeptRed, staSeptBlack], colors: stereo7 },
  { col: 2, row: 0, tag: "SOHO/HED", time: sohoTime, range: [-4, 1], series: [hedPurple, hedBlue, hedGreen, hedRed, hedBlack], colors: soho5 },
  { col: 2, row: 1, tag: "SOHO/LED", time: sohoTime, range: [-2, 3], series: [ledPurple, ledBlue, ledGreen, ledRed, ledBlack], colors: soho5 },
  { col: 2, row: 2, tag: "ACE/EPAM", time: epamTime, range: [0, 4], series: [epamPink, epamPurple, epamBlue, epamGreen, epamRed, epamBlack], colors: epam6 },
];

// ---------- layout ----------
const W = 1862;
const H = 666;
const COL_X = [312, 785, 1257];
const COL_W = 386;
const ROW_Y = [41, 226, 410, 594];

const legends = [
  { labels: hetLabels, colors: stereo7, x: 219, y: 85, dy: 19.4, anchor: "end" },
  { labels: letLabels, colors: let6, x: 219, y: 280, dy: 19.4, anchor: "end" },
  { labels: septLabels, colors: stereo7, x: 221, y: 455, dy: 19.9, anchor: "end" },
  { labels: hedLabels, colors: soho5, x: 1648, y: 95, dy: 19.5, anchor: "start" },
  { labels: ledLabels, colors: soho5, x: 1650, y: 271, dy: 19.3, anchor: "start" },
  { labels: epamLabels, colors: epam6, x: 1647, y: 457, dy: 19.2, anchor: "start" },
];

function xScale(col: number) {
  return d3.scaleLinear().domain([23, 26]).range([COL_X[col], COL_X[col] + COL_W]);
}

function yScale(p: PanelDef) {
  return d3
    .scaleLog()
    .domain([Math.pow(10, p.range[0]), Math.pow(10, p.range[1])])
    .range([ROW_Y[p.row + 1], ROW_Y[p.row]]);
}

function expLabel(k: number) {
  return k < 0 ? "\u2212" + String(-k) : String(k);
}

function PanelData({ p }: { p: PanelDef }) {
  const xs = xScale(p.col);
  const ys = yScale(p);
  const line = d3
    .line<[number, number | null]>()
    .defined((d) => d[1] != null && !Number.isNaN(d[1]))
    .x((d) => xs(d[0]))
    .y((d) => ys(Math.pow(10, d[1] as number)));
  const id = `clip-${p.col}-${p.row}`;
  return (
    <g clipPath={`url(#${id})`}>
      {p.series.map((vals, i) => {
        const pts = p.time.map((t, j) => [t, vals[j] ?? null] as [number, number | null]);
        return (
          <path
            key={i}
            d={line(pts) || ""}
            fill="none"
            stroke={p.colors[i]}
            strokeWidth={1.15}
            strokeLinejoin="round"
          />
        );
      })}
    </g>
  );
}

function PanelFrame({ p }: { p: PanelDef }) {
  const xs = xScale(p.col);
  const ys = yScale(p);
  const x0 = COL_X[p.col];
  const x1 = x0 + COL_W;
  const y0 = ROW_Y[p.row];
  const y1 = ROW_Y[p.row + 1];
  const [lo, hi] = p.range;

  const yTicks: { v: number; major: boolean; k: number }[] = [];
  for (let k = Math.floor(lo); k <= Math.ceil(hi); k++) {
    for (let m = 1; m <= 9; m++) {
      const lv = Math.log10(m) + k;
      if (lv >= lo - 1e-9 && lv <= hi + 1e-9) yTicks.push({ v: m * Math.pow(10, k), major: m === 1, k });
    }
  }
  const xTicks = d3.range(1, 36).map((i) => ({ t: 23 + i / 12, major: i % 12 === 0 }));
  const bottomPad = p.row < 2 ? 15 : 9;

  return (
    <g>
      <rect x={x0} y={y0} width={COL_W} height={y1 - y0} fill="none" stroke="#111" strokeWidth={1.4} />
      {xTicks.map(({ t, major }, i) => {
        const x = xs(t);
        const len = major ? 14 : 7;
        return (
          <g key={`xt${i}`} stroke="#111" strokeWidth={1.2}>
            <line x1={x} x2={x} y1={y1} y2={y1 - len} />
            <line x1={x} x2={x} y1={y0} y2={y0 + len} />
          </g>
        );
      })}
      {yTicks.map(({ v, major }, i) => {
        const y = ys(v);
        const len = major ? 11 : 5;
        return (
          <g key={`yt${i}`} stroke="#111" strokeWidth={1.2}>
            <line x1={x0} x2={x0 + len} y1={y} y2={y} />
            <line x1={x1} x2={x1 - len} y1={y} y2={y} />
          </g>
        );
      })}
      {yTicks
        .filter((d) => d.major)
        .filter((d) => p.row === 0 || ys(d.v) - y0 >= 8)
        .map(({ v, k }, i) => {
          const ly = Math.min(Math.max(ys(v), y0 + 5), y1 - bottomPad);
          return (
            <text key={`yl${i}`} x={x0 - 4} y={ly + 7} textAnchor="end" fontSize={21} fill="#111">
              10
              <tspan dy={-8} fontSize={14}>
                {expLabel(k)}
              </tspan>
            </text>
          );
        })}
      <text x={x0 + 9} y={y0 + 30} fontSize={21} fill="#111">
        {p.tag}
      </text>
    </g>
  );
}

export default function App() {
  return (
    <svg
      width={W}
      height={H}
      viewBox={`0 0 ${W} ${H}`}
      style={{ position: "absolute", left: 0, top: 0, background: "#fff" }}
      fontFamily={FONT}
    >
      <rect width={W} height={H} fill="#fff" />
      <defs>
        {panels.map((p) => (
          <clipPath key={`c${p.col}${p.row}`} id={`clip-${p.col}-${p.row}`}>
            <rect x={COL_X[p.col]} y={ROW_Y[p.row]} width={COL_W} height={ROW_Y[p.row + 1] - ROW_Y[p.row]} />
          </clipPath>
        ))}
      </defs>

      {/* ICME intervals */}
      {[stbIcme, staIcme].map((bands, col) =>
        bands.map(([a, b], i) => {
          const xs = xScale(col);
          return (
            <rect
              key={`band${col}-${i}`}
              x={xs(a)}
              y={ROW_Y[0]}
              width={xs(b) - xs(a)}
              height={ROW_Y[3] - ROW_Y[0]}
              fill="#a8aaad"
            />
          );
        })
      )}

      {panels.map((p) => (
        <PanelData key={`d${p.col}${p.row}`} p={p} />
      ))}

      {/* shock arrival */}
      {[stbShock, staShock].map((t, col) => {
        const x = xScale(col)(t);
        return (
          <line
            key={`shock${col}`}
            x1={x}
            x2={x}
            y1={ROW_Y[0]}
            y2={ROW_Y[3]}
            stroke="#222"
            strokeWidth={1.3}
            strokeDasharray="7 5"
          />
        );
      })}

      {panels.map((p) => (
        <PanelFrame key={`f${p.col}${p.row}`} p={p} />
      ))}

      {/* column titles, time axes and intensity labels */}
      {columnTitles.map((title, col) => {
        const xs = xScale(col);
        const cx = COL_X[col] + COL_W / 2;
        const lx = COL_X[col] - 70;
        return (
          <g key={`col${col}`} fill="#111">
            <text x={cx} y={29} textAnchor="middle" fontSize={22}>
              {title}
            </text>
            {dayTicks.map((d) => (
              <text key={d} x={xs(d)} y={627} textAnchor="middle" fontSize={21}>
                {d}
              </text>
            ))}
            <text x={cx} y={655} textAnchor="middle" fontSize={22}>
              Day of July 2012
            </text>
            <text
              transform={`translate(${lx},320) rotate(-90)`}
              textAnchor="middle"
              fontSize={24}
              letterSpacing={2}
            >
              H intensity (cm
              <tspan dy={-9} fontSize={16}>
                2
              </tspan>
              <tspan dy={9}>{" s sr MeV)"}</tspan>
              <tspan dy={-9} fontSize={16}>
                {"\u22121"}
              </tspan>
            </text>
          </g>
        );
      })}

      {/* event annotations */}
      <g fontSize={22} fill="#111">
        <text x={xScale(0)(stbShock) - 5} y={134} textAnchor="end">
          Shock
        </text>
        <text x={xScale(0)((stbIcme[0][0] + stbIcme[0][1]) / 2)} y={197} textAnchor="middle">
          ICME
        </text>
        <text x={xScale(1)(staShock) - 4} y={154} textAnchor="end">
          Shock
        </text>
        <text x={xScale(1)(staIcme[0][1]) + 10} y={200} textAnchor="end">
          ICME1
        </text>
        <text x={xScale(1)(staIcme[1][0]) + 3} y={200} textAnchor="start">
          ICME2
        </text>
        <text x={COL_X[1] + 15} y={292} fill="#e5553f">
          Onset
        </text>
      </g>

      {/* energy channel legends */}
      {legends.map((lg, li) => (
        <g key={`lg${li}`} fontSize={22}>
          {lg.labels.map((s, i) => (
            <text
              key={i}
              x={lg.x}
              y={lg.y + i * lg.dy + 7}
              textAnchor={lg.anchor as "start" | "end"}
              fill={lg.colors[i]}
              style={{ whiteSpace: "pre" }}
            >
              {s}
            </text>
          ))}
        </g>
      ))}

      {/* highlight around the near-Earth high-energy panel */}
      <ellipse cx={1442} cy={111} rx={270} ry={199} fill="none" stroke="#ff0000" strokeWidth={8} />
    </svg>
  );
}
